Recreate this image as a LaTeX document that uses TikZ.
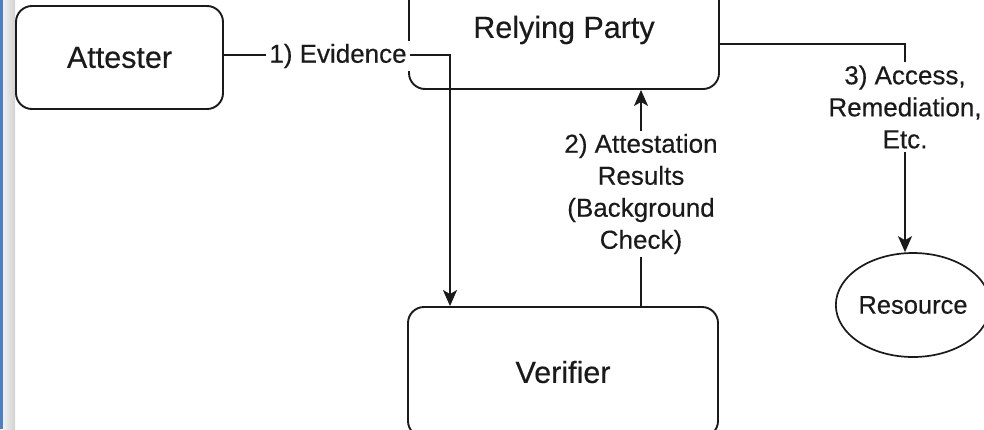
\documentclass[tikz,border=0pt]{standalone}
\usepackage{fontspec}
\setmainfont[FakeBold=0.35]{Liberation Sans}
\usetikzlibrary{arrows.meta,shapes.geometric}
\definecolor{ink}{HTML}{1A1A1A}
\definecolor{edgeblue}{HTML}{4C80C6}
\begin{document}
\begin{tikzpicture}[x=1pt,y=-1pt,
  box/.style={draw=ink, line width=1.9pt, rounded corners=16pt, fill=white,
    text=ink, font=\fontsize{30.5}{36}\selectfont},
  oval/.style={ellipse, draw=ink, line width=1.7pt, fill=white, inner sep=0pt,
    text=ink, font=\fontsize{25.5}{30}\selectfont},
  conn/.style={draw=ink, line width=1.9pt},
  arr/.style={conn, -{Stealth[length=16pt,width=14pt,inset=4pt]}},
  lbl/.style={fill=white, inner sep=3pt, align=center, text=ink,
    font=\fontsize{26}{32}\selectfont}]

% canvas
\useasboundingbox (0,0) rectangle (984,429);
\clip (0,0) rectangle (984,429);
\fill[white] (0,0) rectangle (984,429);

% window edge on the left
\fill[edgeblue] (0,0) rectangle (3.3,429);
\shade[left color=black!6, right color=black!18] (3.3,0) rectangle (15,429);

% parties
\node[box, minimum width=207pt, minimum height=103pt] (att) at (119.5,57.5) {Attester};
\node[box, minimum width=310pt, minimum height=118pt] (rp) at (564,30) {Relying Party};
\node[box, minimum width=310pt, minimum height=130pt] (ver) at (563,372) {Verifier};
\node[oval, minimum width=140pt, minimum height=104pt] (res) at (913,305) {Resource};

% 1) evidence: attester -> verifier
\coordinate (ev) at (450,55);
\draw[arr] (att.east |- ev) -- (ev) -- (ev |- ver.north);

% 2) attestation results: verifier -> relying party
\coordinate (ar) at (641,0);
\draw[arr] (ar |- ver.north) -- (ar |- rp.south);

% 3) access: relying party -> resource
\coordinate (ac) at (905,44);
\draw[arr] (rp.east |- ac) -- (ac) -- (ac |- res.north);

% connector labels
\node[lbl] (l1) at (338,56) {1) Evidence};
\node[lbl] (l2) at (641,194) {2) Attestation\\Results\\(Background\\Check)};
\node[lbl] (l3) at (905,107) {3) Access,\\Remediation,\\Etc.};
\end{tikzpicture}
\end{document}
